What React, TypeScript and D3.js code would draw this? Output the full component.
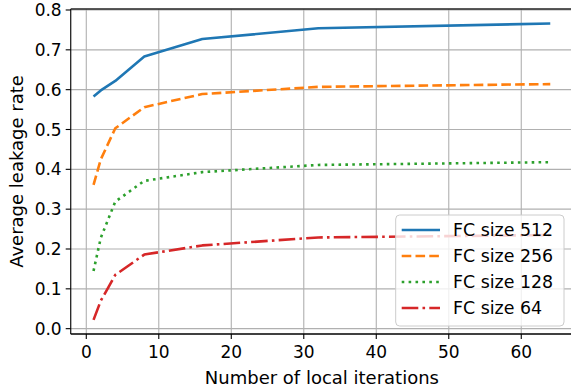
import React from 'react'
import * as d3 from 'd3'

const W = 571
const H = 387

const ITERATIONS = [1, 2, 4, 8, 16, 32, 64]
const FC512 = [0.583, 0.598, 0.622, 0.683, 0.727, 0.754, 0.766]
const FC256 = [0.361, 0.425, 0.503, 0.556, 0.589, 0.607, 0.614]
const FC128 = [0.145, 0.228, 0.319, 0.371, 0.393, 0.411, 0.418]
const FC64 = [0.022, 0.07, 0.135, 0.186, 0.209, 0.229, 0.235]

const X_TICKS = [0, 10, 20, 30, 40, 50, 60]
const Y_TICKS = [0, 0.1, 0.2, 0.3, 0.4, 0.5, 0.6, 0.7, 0.8]

const SERIES = [
  { label: 'FC size 512', values: FC512, color: '#1f77b4', dash: null },
  { label: 'FC size 256', values: FC256, color: '#ff7f0e', dash: '9.6,4.2' },
  { label: 'FC size 128', values: FC128, color: '#2ca02c', dash: '2.6,4.3' },
  { label: 'FC size 64', values: FC64, color: '#d62728', dash: '16.6,4.2,2.6,4.2' },
]

const FONT = 'DejaVu Sans, sans-serif'

export default function App() {
  const left = 70.7
  const top = 9
  const bottom = 334
  const x = d3.scaleLinear().domain([-2.15, 67.15]).range([left, 573.1])
  const y = d3.scaleLinear().domain([-0.0134, 0.8025]).range([bottom, top])

  const line = d3.line<[number, number]>().x(d => x(d[0])).y(d => y(d[1]))

  // legend box
  const lg = { x: 395.7, y: 215, w: 168.3, h: 111 }
  const rowH = 26
  const grid = '#b0b0b0'

  return (
    <svg width={W} height={H} style={{ position: 'absolute', left: 0, top: 0, background: '#fff' }}>
      <defs>
        <clipPath id="plot">
          <rect x={left} y={top} width={W - left} height={bottom - top} />
        </clipPath>
      </defs>

      {/* grid */}
      {X_TICKS.map(t => (
        <line key={'gx' + t} x1={x(t)} x2={x(t)} y1={top} y2={bottom} stroke={grid} strokeWidth={1.1} />
      ))}
      {Y_TICKS.map(t => (
        <line key={'gy' + t} x1={left} x2={W} y1={y(t)} y2={y(t)} stroke={grid} strokeWidth={1.1} />
      ))}

      {/* lines */}
      <g clipPath="url(#plot)">
        {SERIES.map(s => (
          <path
            key={s.label}
            d={line(ITERATIONS.map((it, i) => [it, s.values[i]] as [number, number])) || ''}
            fill="none"
            stroke={s.color}
            strokeWidth={2.6}
            strokeDasharray={s.dash || undefined}
            strokeLinejoin="round"
          />
        ))}
      </g>

      {/* spines */}
      <line x1={left} x2={left} y1={top} y2={bottom} stroke="#222" strokeWidth={1.3} />
      <line x1={left} x2={W} y1={top} y2={top} stroke="#222" strokeWidth={1.3} />
      <line x1={left} x2={W} y1={bottom} y2={bottom} stroke="#000" strokeWidth={1.3} />

      {/* x ticks */}
      {X_TICKS.map(t => (
        <g key={'xt' + t} transform={`translate(${x(t)},${bottom})`}>
          <line y1={0} y2={5} stroke="#000" strokeWidth={1.1} />
          <text y={24} textAnchor="middle" fontFamily={FONT} fontSize={17} fill="#000">{t}</text>
        </g>
      ))}

      {/* y ticks */}
      {Y_TICKS.map(t => (
        <g key={'yt' + t} transform={`translate(${left},${y(t)})`}>
          <line x1={-5} x2={0} stroke="#000" strokeWidth={1.1} />
          <text x={-9} dy="0.36em" textAnchor="end" fontFamily={FONT} fontSize={17} fill="#000">{t.toFixed(1)}</text>
        </g>
      ))}

      {/* axis labels */}
      <text x={x(32.5)} y={384} textAnchor="middle" fontFamily={FONT} fontSize={18} fill="#000">
        Number of local iterations
      </text>
      <text
        transform={`translate(23,${(top + bottom) / 2}) rotate(-90)`}
        textAnchor="middle"
        fontFamily={FONT}
        fontSize={18}
        fill="#000"
      >
        Average leakage rate
      </text>

      {/* legend */}
      <rect x={lg.x} y={lg.y} width={lg.w} height={lg.h} rx={4} fill="#fff" fillOpacity={0.8} stroke="#cccccc" strokeWidth={1} />
      {SERIES.map((s, i) => {
        const cy = lg.y + 15 + i * rowH
        return (
          <g key={'lg' + s.label}>
            <line x1={401.7} x2={440} y1={cy} y2={cy} stroke={s.color} strokeWidth={2.6} strokeDasharray={s.dash || undefined} />
            <text x={453} y={cy} dy="0.36em" fontFamily={FONT} fontSize={17.4} fill="#000">{s.label}</text>
          </g>
        )
      })}
    </svg>
  )
}
